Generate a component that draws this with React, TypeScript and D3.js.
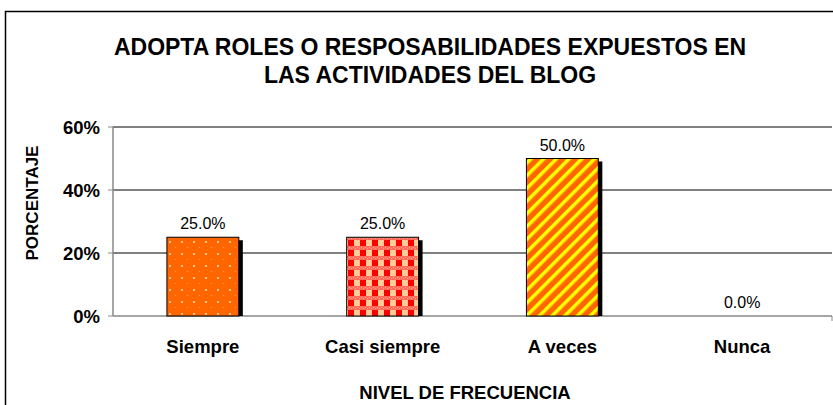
import React from "react";
import * as d3 from "d3";

const categories = ["Siempre", "Casi siempre", "A veces", "Nunca"];
const values = [0.25, 0.25, 0.5, 0.0];
const yTicks = [0, 0.2, 0.4, 0.6];
const patterns = ["pDots", "pCheck", "pStripe", "pDots"];

export default function App() {
  const W = 833, H = 405;
  const left = 113, right = 832, top = 127, bottom = 316;
  const x = d3.scaleBand<string>().domain(categories).range([left, right]).paddingInner(0.6).paddingOuter(0.3);
  const band = d3.scaleBand<string>().domain(categories).range([left, right]);
  const y = d3.scaleLinear().domain([0, 0.6]).range([bottom, top]);
  const fmt = d3.format(".1%");
  const tfmt = d3.format(".0%");
  const font = "'Liberation Sans', Arial, sans-serif";
  return (
    <svg width={W} height={H} style={{ position: "absolute", left: 0, top: 0 }} fontFamily={font}>
      <defs>
        <pattern id="pDots" width={12} height={12} patternUnits="userSpaceOnUse">
          <rect width={12} height={12} fill="#FF6600" />
          <rect x={1} y={1} width={2} height={2} fill="#FFC890" />
          <rect x={7} y={7} width={1} height={1} fill="#F8A060" />
        </pattern>
        <pattern id="pCheck" width={12} height={10} patternUnits="userSpaceOnUse">
          <rect width={12} height={10} fill="#FFCC99" />
          <rect x={0} y={0} width={6} height={6} fill="#FF0000" />
          <rect x={0} y={6} width={12} height={4} fill="#FF6A5A" />
          <rect x={1} y={7} width={1} height={1} fill="#FFB090" />
          <rect x={5} y={7} width={1} height={1} fill="#FFB090" />
          <rect x={9} y={7} width={1} height={1} fill="#FFB090" />
          <rect x={3} y={8} width={1} height={1} fill="#FFB090" />
          <rect x={7} y={8} width={1} height={1} fill="#FFB090" />
          <rect x={11} y={8} width={1} height={1} fill="#FFB090" />
        </pattern>
        <pattern id="pStripe" width={9} height={9} patternUnits="userSpaceOnUse" patternTransform="rotate(45)">
          <rect width={9} height={9} fill="#FF6600" />
          <rect x={0} y={0} width={3.5} height={9} fill="#FFFF00" />
        </pattern>
      </defs>
      <rect x={5.5} y={11.5} width={900} height={500} fill="white" stroke="black" strokeWidth={1.5} />
      <text x={430} y={55} textAnchor="middle" fontSize={23} fontWeight="bold">ADOPTA ROLES O RESPOSABILIDADES EXPUESTOS EN</text>
      <text x={430} y={83} textAnchor="middle" fontSize={23} fontWeight="bold">LAS ACTIVIDADES DEL BLOG</text>
      {yTicks.slice(1).map((t) => (
        <line key={t} x1={left} x2={right} y1={y(t)} y2={y(t)} stroke="black" strokeWidth={1} />
      ))}
      {yTicks.map((t) => (
        <g key={"t" + t}>
          <line x1={left - 5} x2={left} y1={y(t)} y2={y(t)} stroke="#888" />
          <text x={100} y={y(t) + 6.5} textAnchor="end" fontSize={18.5} fontWeight="bold">{tfmt(t)}</text>
        </g>
      ))}
      <line x1={left} x2={left} y1={top} y2={bottom} stroke="#888" strokeWidth={1.5} />
      <line x1={left} x2={right} y1={bottom} y2={bottom} stroke="#888" strokeWidth={1.5} />
      <line x1={right} x2={right} y1={bottom} y2={bottom + 5} stroke="#888" />
      {categories.map((c, i) => {
        const bx = x(c)!, bw = x.bandwidth(), by = y(values[i]), bh = bottom - y(values[i]);
        const cx = band(c)! + band.bandwidth() / 2;
        return (
          <g key={c}>
            {bh > 0 && (
              <>
                <rect x={bx + 4} y={by + 3} width={bw} height={bh - 3} fill="black" />
                <rect x={bx} y={by} width={bw} height={bh} fill={`url(#${patterns[i]})`} stroke="black" strokeWidth={1} />
              </>
            )}
            <text x={cx} y={by - 8} textAnchor="middle" fontSize={16}>{fmt(values[i])}</text>
            <text x={cx} y={353} textAnchor="middle" fontSize={18.5} fontWeight="bold">{c}</text>
          </g>
        );
      })}
      <text x={465} y={399} textAnchor="middle" fontSize={18.5} fontWeight="bold">NIVEL DE FRECUENCIA</text>
      <text transform={`translate(38,${203}) rotate(-90)`} textAnchor="middle" fontSize={17} fontWeight="bold">PORCENTAJE</text>
    </svg>
  );
}
